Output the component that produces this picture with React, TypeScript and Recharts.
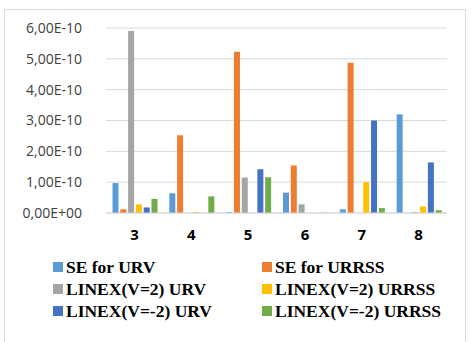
import { BarChart, Bar, XAxis, YAxis, CartesianGrid } from 'recharts';

const CATEGORIES = ['3', '4', '5', '6', '7', '8'];

const SE_URV = [0.97e-10, 0.64e-10, 0.03e-10, 0.66e-10, 0.12e-10, 3.2e-10];
const SE_URRSS = [0.12e-10, 2.52e-10, 5.23e-10, 1.54e-10, 4.87e-10, 0];
const LINEX_P2_URV = [5.9e-10, 0, 1.15e-10, 0.28e-10, 0, 0.03e-10];
const LINEX_P2_URRSS = [0.28e-10, 0.03e-10, 0, 0, 1.0e-10, 0.21e-10];
const LINEX_M2_URV = [0.18e-10, 0, 1.42e-10, 0, 3.0e-10, 1.64e-10];
const LINEX_M2_URRSS = [0.46e-10, 0.54e-10, 1.16e-10, 0.01e-10, 0.16e-10, 0.09e-10];

const Y_TICKS = [0, 1e-10, 2e-10, 3e-10, 4e-10, 5e-10, 6e-10];

const SERIES = [
    { key: 'seUrv', name: 'SE for URV', color: '#5B9BD5', values: SE_URV },
    { key: 'seUrrss', name: 'SE for URRSS', color: '#ED7D31', values: SE_URRSS },
    { key: 'lxP2Urv', name: 'LINEX(V=2) URV', color: '#A5A5A5', values: LINEX_P2_URV },
    { key: 'lxP2Urrss', name: 'LINEX(V=2) URRSS', color: '#FFC000', values: LINEX_P2_URRSS },
    { key: 'lxM2Urv', name: 'LINEX(V=-2) URV', color: '#4472C4', values: LINEX_M2_URV },
    { key: 'lxM2Urrss', name: 'LINEX(V=-2) URRSS', color: '#70AD47', values: LINEX_M2_URRSS },
];

const data = CATEGORIES.map((c, i) => {
    const row: Record<string, string | number> = { cat: c };
    SERIES.forEach(s => { row[s.key] = s.values[i]; });
    return row;
});

// Excel-style scientific label: 6,00E-10
const sci = (v: number) => {
    if (v === 0) return '0,00E+00';
    const exp = Math.floor(Math.log10(Math.abs(v)) + 1e-9);
    const mant = (v / Math.pow(10, exp)).toFixed(2).replace('.', ',');
    const sign = exp < 0 ? '-' : '+';
    return `${mant}E${sign}${String(Math.abs(exp)).padStart(2, '0')}`;
};

export default function App() {
    return (
        <div style={{ position: 'absolute', left: 0, top: 0, width: 472, height: 342, background: '#fff', overflow: 'hidden' }}>
            <div style={{ position: 'absolute', left: 4, top: 9, width: 462, height: 340, border: '1px solid #d9d9d9', boxSizing: 'border-box' }} />
            <BarChart width={472} height={342} data={data} margin={{ top: 28, right: 25, left: 0, bottom: 99 }}
                barCategoryGap={6.5} barGap={1.8}>
                <CartesianGrid vertical={false} stroke="#d9d9d9" strokeWidth={1} />
                <XAxis dataKey="cat" height={30} axisLine={{ stroke: '#d9d9d9' }} tickLine={false} tickMargin={10}
                    tick={{ fill: '#000', fontSize: 15, fontWeight: 700, fontFamily: 'Open Sans' }} />
                <YAxis width={106} domain={[0, 6e-10]} ticks={Y_TICKS} tickFormatter={sci} axisLine={false} tickLine={false}
                    tickMargin={18} interval={0}
                    tick={{ fill: '#404040', fontSize: 14, fontFamily: 'Open Sans' }} />
                {SERIES.map(s => (
                    <Bar key={s.key} dataKey={s.key} name={s.name} fill={s.color} isAnimationActive={false} />
                ))}
            </BarChart>
            <div style={{ position: 'absolute', left: 53, top: 256, width: 420, display: 'grid', gridTemplateColumns: '209px 200px', rowGap: 0 }}>
                {SERIES.map(s => (
                    <div key={s.key} style={{ display: 'flex', alignItems: 'center', height: 22 }}>
                        <div style={{ width: 10, height: 10, background: s.color, marginRight: 3 }} />
                        <span style={{ fontFamily: '"Liberation Serif", serif', fontWeight: 700, fontSize: 17.5, color: '#000', whiteSpace: 'nowrap' }}>{s.name}</span>
                    </div>
                ))}
            </div>
        </div>
    );
}
